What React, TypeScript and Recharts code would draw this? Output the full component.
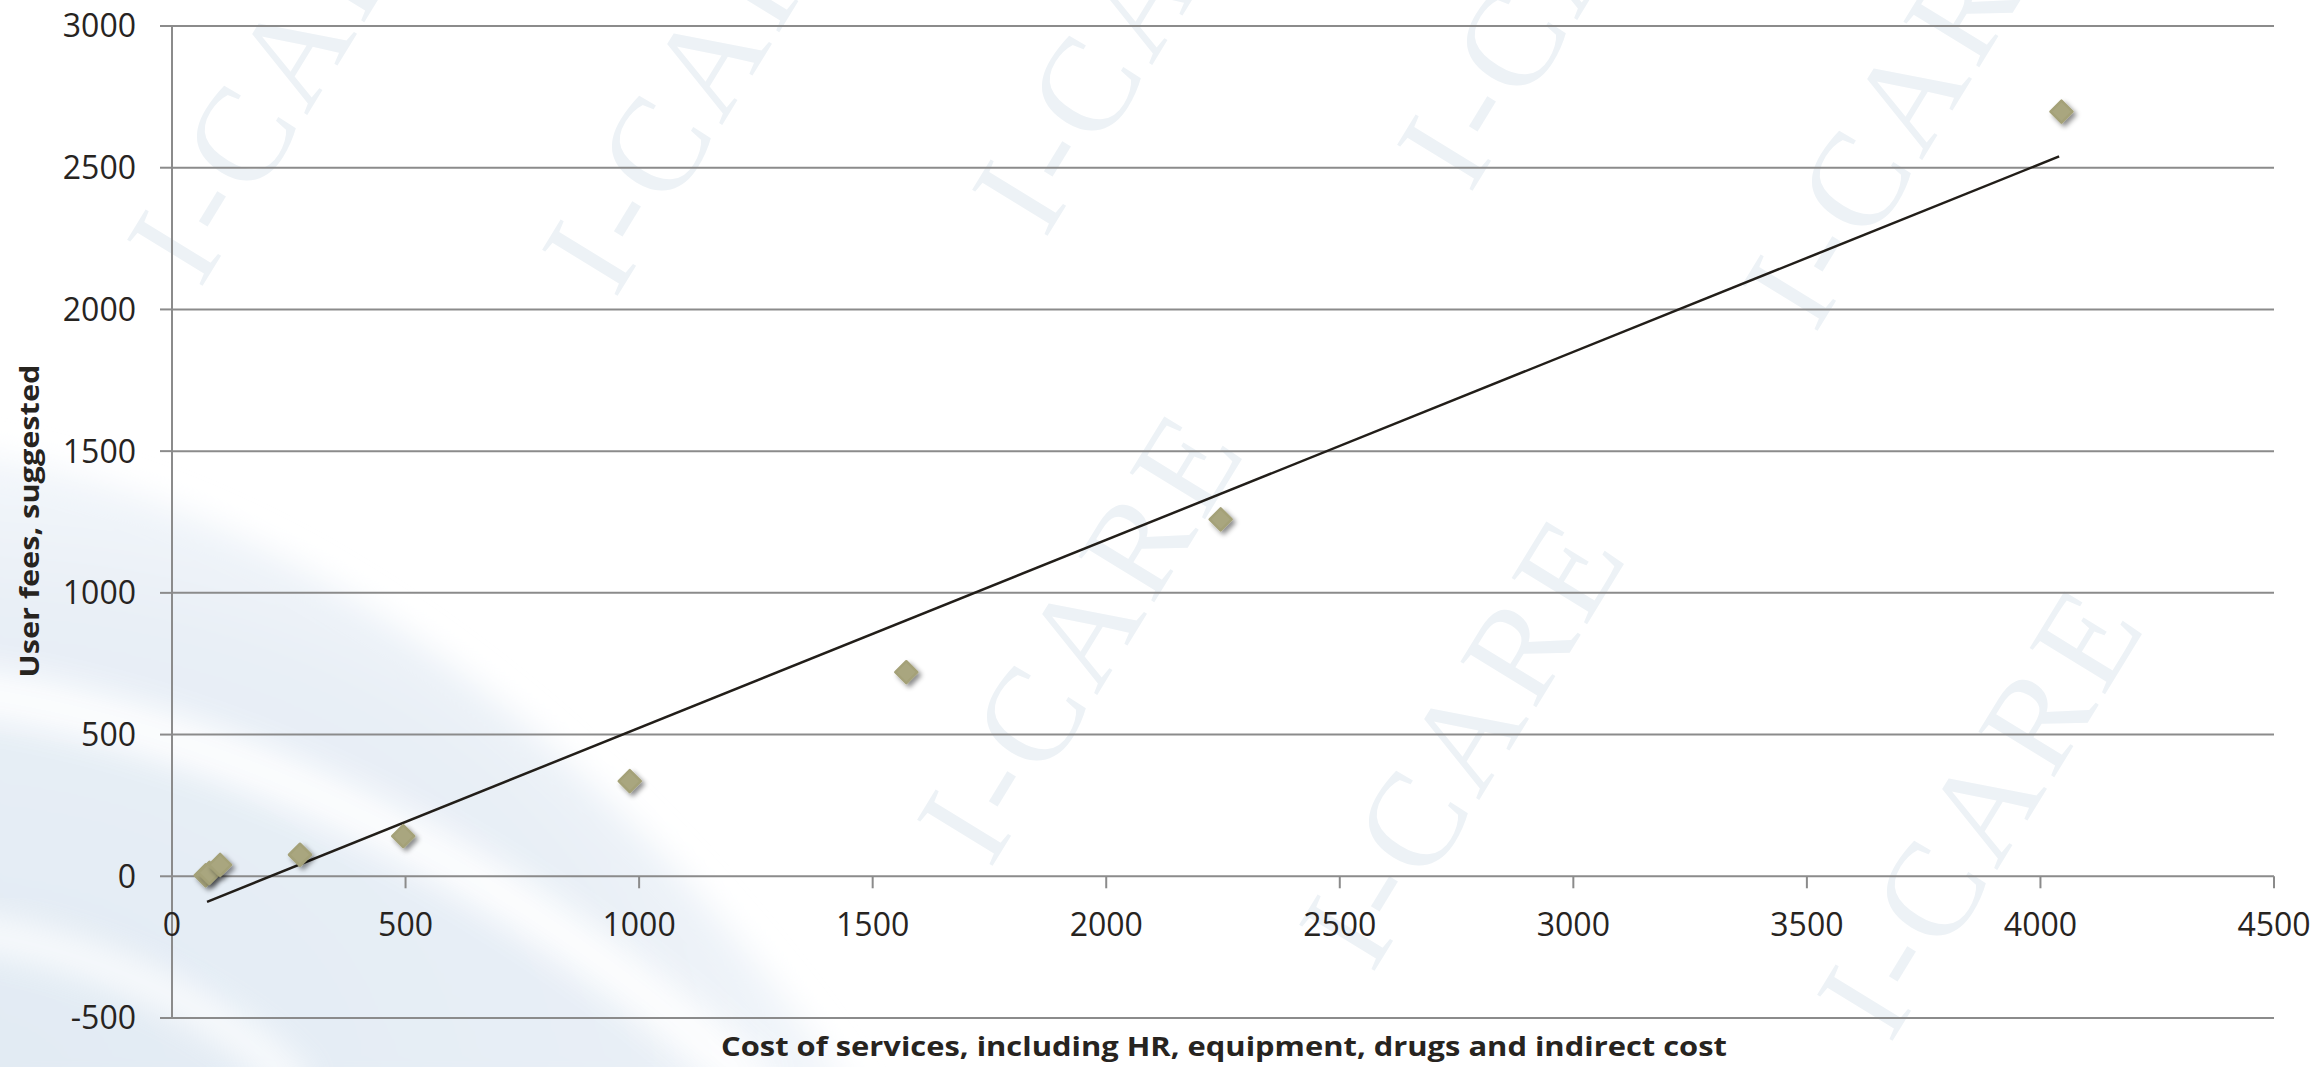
import { ScatterChart, Scatter, XAxis, YAxis, CartesianGrid, ReferenceLine } from "recharts";

// cost of services vs. suggested user fee, one entry per service
const costOfServices = [72, 80, 103, 274, 495, 980, 1572, 2245, 4045];
const userFees = [3, 12, 40, 76, 142, 336, 720, 1259, 2698];

// linear trend line end points
const trendCost = [75, 4040];
const trendFee = [-90, 2540];

const xTicks = [0, 500, 1000, 1500, 2000, 2500, 3000, 3500, 4000, 4500];
const yTicks = [-500, 0, 500, 1000, 1500, 2000, 2500, 3000];

const xTitle = "Cost of services, including HR, equipment, drugs and indirect cost";
const yTitle = "User fees, suggested";

const W = 2317;
const H = 1067;
const MARGIN = { top: 26, right: 43, bottom: 0, left: 0 };
const X_AXIS_H = 49;
const Y_AXIS_W = 172;
const X_DOMAIN: [number, number] = [0, 4500];
const Y_DOMAIN: [number, number] = [-500, 3000];

const GRID = "#8b8b8b";
const TEXT = "#27241f";
const FONT = "'Open Sans', sans-serif";

const points = costOfServices.map((cost, i) => ({ cost, fee: userFees[i] }));

// the horizontal axis crosses at fee = 0, not at the bottom of the plot
const plotH = H - MARGIN.top - MARGIN.bottom - X_AXIS_H;
const zeroY = MARGIN.top + (plotH * (Y_DOMAIN[1] - 0)) / (Y_DOMAIN[1] - Y_DOMAIN[0]);

// watermark placements (baseline start of each "I-CARE")
const marks = [
  [200, 290], [615, 300], [1045, 240], [1470, 195], [1815, 335],
  [990, 870], [1372, 975], [1890, 1045],
];

function XTick(props: any) {
  const { x, payload } = props;
  return (
    <g>
      <line x1={x} x2={x} y1={zeroY} y2={zeroY + 12} stroke={GRID} strokeWidth={2} />
      <text x={x} y={zeroY + 60} textAnchor="middle" fill={TEXT} fontSize={32} fontFamily={FONT}>
        {payload.value}
      </text>
    </g>
  );
}

function Diamond(props: any) {
  const { cx, cy } = props;
  const r = 11;
  return (
    <path
      d={`M${cx},${cy - r}L${cx + r},${cy}L${cx},${cy + r}L${cx - r},${cy}Z`}
      fill="#a9a67f"
      stroke="#a4a178"
      strokeWidth={2.5}
      strokeLinejoin="round"
      filter="url(#markerShadow)"
    />
  );
}

function Backdrop() {
  return (
    <svg width={W} height={H} style={{ position: "absolute", left: 0, top: 0 }}>
      <defs>
        <radialGradient id="swoosh" cx="0" cy="1" r="1">
          <stop offset="0%" stopColor="#e1eaf3" />
          <stop offset="75%" stopColor="#e8eff6" />
          <stop offset="100%" stopColor="#f4f7fb" />
        </radialGradient>
        <filter id="soft" x="-20%" y="-20%" width="140%" height="140%">
          <feGaussianBlur stdDeviation="16" />
        </filter>
      </defs>
      <rect width={W} height={H} fill="#ffffff" />
      <path d="M-40,450 C320,500 640,780 860,1100 L-40,1100 Z" fill="url(#swoosh)" filter="url(#soft)" />
      <path d="M-40,690 C260,730 540,890 760,1090" stroke="#ffffff" strokeWidth={50} fill="none" filter="url(#soft)" opacity={0.9} />
      <path d="M-40,930 C100,950 230,1010 300,1090" stroke="#ffffff" strokeWidth={34} fill="none" filter="url(#soft)" opacity={0.8} />
      {marks.map(([x, y], i) => (
        <text
          key={i}
          transform={`translate(${x},${y}) rotate(-58.5)`}
          fontFamily="'Liberation Serif', serif"
          fontSize={135}
          letterSpacing={8}
          fill="#edf2f6"
        >
          I-CARE
        </text>
      ))}
      <text
        transform={`translate(39,521) rotate(-90)`}
        textAnchor="middle"
        fontFamily={FONT}
        fontWeight={700}
        fontSize={27}
        fill={TEXT}
        textLength={313}
        lengthAdjust="spacingAndGlyphs"
      >
        {yTitle}
      </text>
      <text
        x={1224}
        y={1056}
        textAnchor="middle"
        fontFamily={FONT}
        fontWeight={700}
        fontSize={27}
        fill={TEXT}
        textLength={1006}
        lengthAdjust="spacingAndGlyphs"
      >
        {xTitle}
      </text>
    </svg>
  );
}

export default function App() {
  return (
    <div style={{ position: "absolute", left: 0, top: 0, width: W, height: H, overflow: "hidden" }}>
      <Backdrop />
      <div style={{ position: "absolute", left: 0, top: 0 }}>
        <ScatterChart width={W} height={H} margin={MARGIN}>
          <defs>
            <filter id="markerShadow" x="-60%" y="-60%" width="220%" height="220%">
              <feDropShadow dx="3" dy="3" stdDeviation="2.5" floodColor="#000" floodOpacity="0.45" />
            </filter>
          </defs>
          <CartesianGrid vertical={false} stroke={GRID} strokeWidth={2} />
          <XAxis
            type="number"
            dataKey="cost"
            domain={X_DOMAIN}
            ticks={xTicks}
            interval={0}
            height={X_AXIS_H}
            axisLine={false}
            tickLine={false}
            tick={(p: any) => <XTick {...p} />}
            allowDataOverflow
          />
          <YAxis
            type="number"
            dataKey="fee"
            domain={Y_DOMAIN}
            ticks={yTicks}
            interval={0}
            width={Y_AXIS_W}
            axisLine={{ stroke: GRID, strokeWidth: 2 }}
            tickLine={{ stroke: GRID, strokeWidth: 2 }}
            tickSize={12}
            tickMargin={24}
            tick={{ fill: TEXT, fontSize: 32, fontFamily: FONT }}
            allowDataOverflow
          />
          <ReferenceLine
            segment={[
              { x: trendCost[0], y: trendFee[0] },
              { x: trendCost[1], y: trendFee[1] },
            ]}
            stroke="#221e19"
            strokeWidth={2.5}
          />
          <Scatter data={points} shape={<Diamond />} isAnimationActive={false} />
        </ScatterChart>
      </div>
    </div>
  );
}
